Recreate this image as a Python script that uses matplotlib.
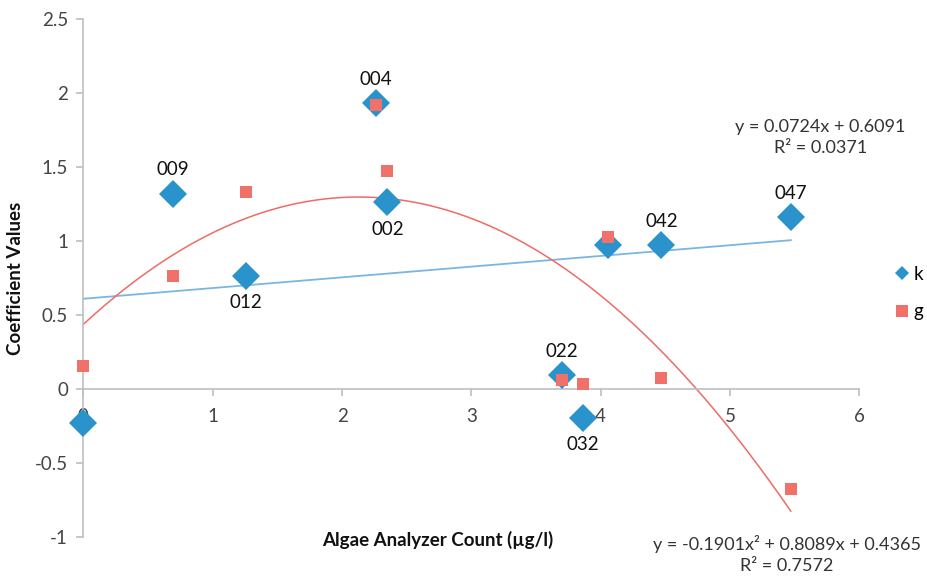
import numpy as np
import matplotlib
matplotlib.use("Agg")
import matplotlib.pyplot as plt
from matplotlib.lines import Line2D

plt.rcParams['font.family'] = ['Lato', 'DejaVu Sans']

# algae analyzer count per sample
x_vals = [0.0, 0.69, 1.26, 2.26, 2.35, 3.70, 3.86, 4.06, 4.47, 5.47]
k_vals = [-0.23, 1.32, 0.76, 1.93, 1.26, 0.095, -0.20, 0.97, 0.97, 1.16]
g_vals = [0.155, 0.76, 1.33, 1.92, 1.47, 0.06, 0.035, 1.03, 0.075, -0.68]
sample_ids = ['', '009', '012', '004', '002', '022', '032', '', '042', '047']
label_above = [True, True, False, True, False, True, False, True, True, True]

# trendline coefficients
lin_coef = [0.0724, 0.6091]
lin_r2 = 0.0371
poly_coef = [-0.1901, 0.8089, 0.4365]
poly_r2 = 0.7572

blue = '#2b93cc'
red = '#f0706a'
axis_grey = '#bfbfbf'

fig = plt.figure(figsize=(9.27, 5.79), dpi=100)
ax = fig.add_axes([0.090, 0.073, 0.837, 0.894])

xs = np.linspace(0, max(x_vals), 200)
ax.plot(xs, np.polyval(lin_coef, xs), color='#7ab6e0', lw=1.3, zorder=2)
ax.plot(xs, np.polyval(poly_coef, xs), color='#f06a66', lw=1.1, zorder=2)

ax.plot(x_vals, k_vals, linestyle='none', marker='D', ms=14, color=blue,
        mew=0, zorder=3, clip_on=False)
ax.plot(x_vals, g_vals, linestyle='none', marker='s', ms=8.5, color=red,
        mew=0, zorder=4, clip_on=False)

for x, y, name, up in zip(x_vals, k_vals, sample_ids, label_above):
    if not name:
        continue
    dy = 11 if up else -13
    ax.annotate(name, (x, y), xytext=(0, dy), textcoords='offset points',
                ha='center', va='bottom' if up else 'top', fontsize=13.5,
                color='#111111', zorder=5)

ax.set_xlim(0, 6)
ax.set_ylim(-1, 2.5)
ax.set_xticks(range(0, 7))
ax.set_yticks(np.arange(-1, 2.51, 0.5))
ax.set_yticklabels(['-1', '-0.5', '0', '0.5', '1', '1.5', '2', '2.5'])

for side in ['top', 'right']:
    ax.spines[side].set_visible(False)
ax.spines['bottom'].set_position(('data', 0))
for side in ['left', 'bottom']:
    ax.spines[side].set_color(axis_grey)
    ax.spines[side].set_linewidth(1.2)
ax.tick_params(axis='both', colors=axis_grey, labelcolor='#444444',
               labelsize=13.5, length=5, width=1.2)
ax.tick_params(axis='x', pad=9)
ax.tick_params(axis='y', pad=6)

ax.set_ylabel('Coefficient Values', fontsize=13.5, fontweight='bold',
              color='#111111', labelpad=8)
fig.text(0.4725, 0.067, 'Algae Analyzer Count (µg/l)', fontsize=13.5,
         fontweight='bold', color='#111111', ha='center', va='center')

# trendline equations
fig.text(0.885, 0.763, f'y = {lin_coef[0]}x + {lin_coef[1]}\nR² = {lin_r2}',
         fontsize=13, color='#333333', ha='center', va='center',
         linespacing=1.4)
fig.text(0.849, 0.042,
         f'y = {poly_coef[0]}x² + {poly_coef[1]}x + {poly_coef[2]}\nR² = {poly_r2}',
         fontsize=13, color='#333333', ha='center', va='center',
         linespacing=1.4)

handles = [Line2D([], [], linestyle='none', marker='D', ms=7.5, color=blue, mew=0),
           Line2D([], [], linestyle='none', marker='s', ms=8, color=red, mew=0)]
fig.legend(handles, ['k', 'g'], loc='center left', bbox_to_anchor=(0.957, 0.494),
           frameon=False, fontsize=13.5, handlelength=0.6, handletextpad=0.3,
           labelspacing=1.1, borderpad=0)

fig.savefig('out.png', dpi=100)
